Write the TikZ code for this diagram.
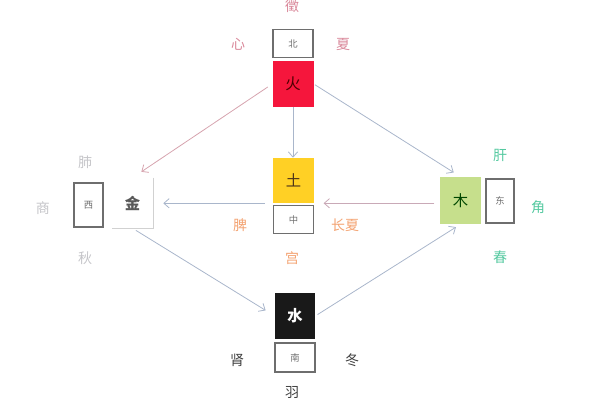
\documentclass[tikz,border=0pt]{standalone}
\usepackage{fontspec}
\setmainfont{Noto Sans CJK SC}
\usetikzlibrary{arrows.meta}
\definecolor{firered}{HTML}{F5163C}
\definecolor{firetext}{HTML}{D9889A}
\definecolor{earthfill}{HTML}{FFD025}
\definecolor{earthtext}{HTML}{F3A372}
\definecolor{woodfill}{HTML}{C6DF8C}
\definecolor{woodtext}{HTML}{55C9A0}
\definecolor{metaltext}{HTML}{C4C4C8}
\definecolor{dirgray}{HTML}{6E6E6E}
\definecolor{linkblue}{HTML}{A9B6CB}
\definecolor{linkpink}{HTML}{D6A3AE}

\begin{document}
\begin{tikzpicture}[x=0.75pt,y=-0.75pt,
    elem/.style={minimum width=30.75pt,minimum height=34.5pt,inner sep=0pt,font=\fontsize{11.5}{11.5}\selectfont},
    dirbox/.style={draw=dirgray,line width=0.8pt,minimum width=30pt,minimum height=20.5pt,inner sep=0pt,text=dirgray,font=\fontsize{7}{7}\selectfont},
    lbl/.style={inner sep=0pt,font=\fontsize{10.5}{10.5}\selectfont},
    link/.style={draw=linkblue,line width=0.6pt,-{Straight Barb[length=4pt,width=7pt]}}]
    \useasboundingbox (0,0) rectangle (600,400);
    % fire
    \node [elem,fill=firered,text=black!70!red] (huo) at (293,84) {火};
    \node [dirbox] (bei) at (293,43.5) {北};
    \node [lbl,text=firetext] (zhi) at (292,6) {徵};
    \node [lbl,text=firetext] (xin) at (238,44) {心};
    \node [lbl,text=firetext] (xia) at (343,44) {夏};
    % earth
    \node [elem,fill=earthfill,text=black!60!brown,minimum height=33.75pt] (tu) at (293.5,180.5) {土};
    \node [dirbox] (zhong) at (293.5,219.5) {中};
    \node [lbl,text=earthtext] (pi) at (240,225) {脾};
    \node [lbl,text=earthtext] (changxia) at (345,225) {长夏};
    \node [lbl,text=earthtext] (gong) at (292,258) {宫};
    % metal
    \node [elem,fill=white,text=black!65,minimum height=37.5pt,font=\fontsize{11.5}{11.5}\selectfont\bfseries] (jin) at (132.5,203) {金};
    \draw [black!18,line width=0.8pt] (jin.north east) -- (jin.south east) -- (jin.south west);
    \node [dirbox,minimum width=21.75pt,minimum height=33pt] (xi) at (88.5,205) {西};
    \node [lbl,text=metaltext] (fei) at (85,162) {肺};
    \node [lbl,text=metaltext] (shang) at (43,208) {商};
    \node [lbl,text=metaltext] (qiu) at (85,258) {秋};
    % wood
    \node [elem,fill=woodfill,text=black!60!green!70!black,minimum height=35.25pt] (mu) at (460.5,200.5) {木};
    \node [dirbox,minimum width=21pt,minimum height=33pt] (dong) at (500,201) {东};
    \node [lbl,text=woodtext] (gan) at (500,155) {肝};
    \node [lbl,text=woodtext] (jiao) at (538,207) {角};
    \node [lbl,text=woodtext] (chun) at (500,257) {春};
    % water
    \node [elem,fill=black!90,text=white,minimum width=30pt,font=\fontsize{11.5}{11.5}\selectfont\bfseries] (shui) at (295,316) {水};
    \node [dirbox,minimum height=21.75pt] (nan) at (295,357.5) {南};
    \node [lbl,text=black!75] (shen) at (237,360) {肾};
    \node [lbl,text=black!75] (dongji) at (352,360) {冬};
    \node [lbl,text=black!75] (yu) at (292,392) {羽};
    % cycle
    \draw [link,draw=linkpink,shorten <=4pt,shorten >=8pt] (huo.west) -- (jin.north);
    \draw [link,shorten <=1pt,shorten >=6pt] (huo.east) -- (mu.north);
    \draw [link] (huo.south) -- (huo.south |- tu.north);
    \draw [link,shorten <=6pt,shorten >=7.5pt] (tu.south west) -- (jin.east |- tu.south);
    \draw [link,draw=linkpink!70!linkblue,shorten <=4pt,shorten >=7pt] (mu.west |- tu.south) -- (tu.south east);
    \draw [link,shorten <=3pt,shorten >=8pt] (jin.south) -- (shui.west);
    \draw [link,shorten <=2pt,shorten >=4pt] (shui.east) -- (mu.south);
\end{tikzpicture}
\end{document}
